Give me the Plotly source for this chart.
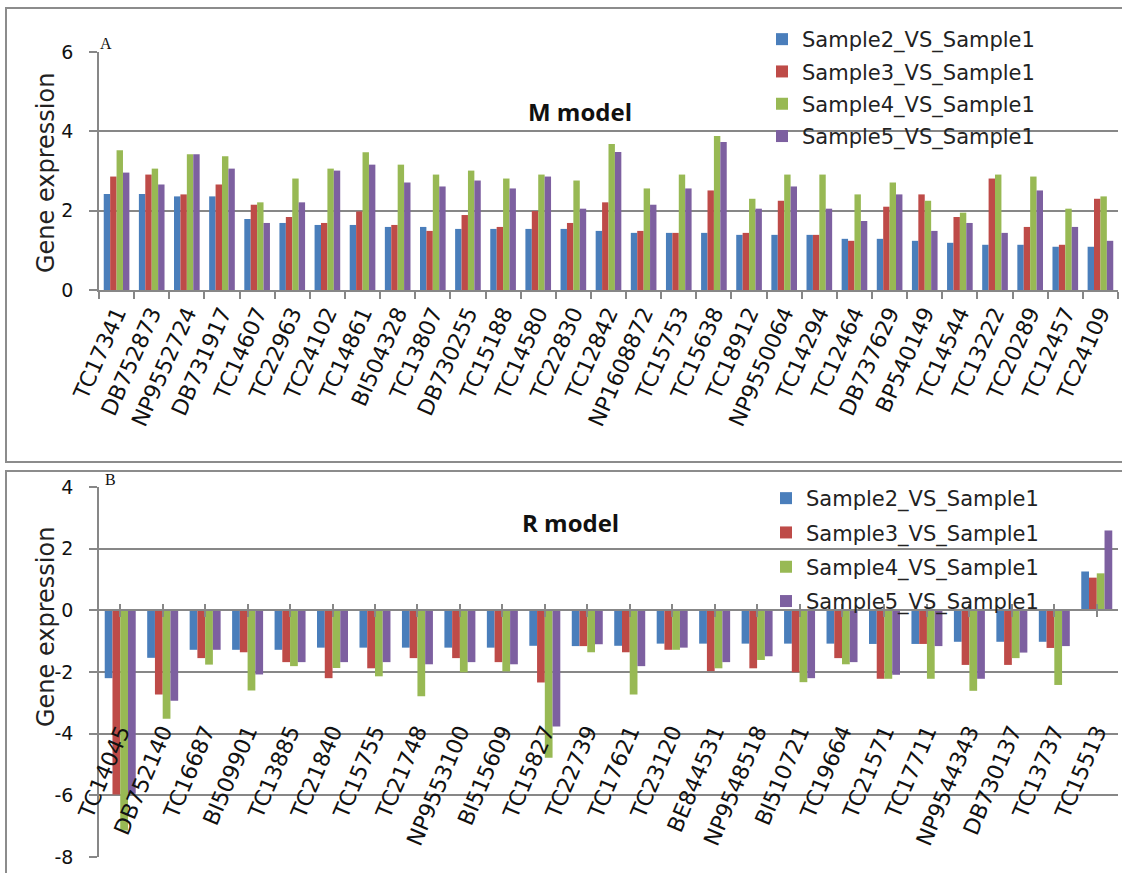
import plotly.graph_objects as go

# ---- M model (panel A) ----
genes_m = ["TC17341", "DB752873", "NP9552724", "DB731917", "TC14607", "TC22963",
           "TC24102", "TC14861", "BI504328", "TC13807", "DB730255", "TC15188",
           "TC14580", "TC22830", "TC12842", "NP1608872", "TC15753", "TC15638",
           "TC18912", "NP9550064", "TC14294", "TC12464", "DB737629", "BP540149",
           "TC14544", "TC13222", "TC20289", "TC12457", "TC24109"]
m_s2 = [2.42, 2.42, 2.36, 2.36, 1.79, 1.69, 1.64, 1.64, 1.59, 1.59, 1.54, 1.54,
        1.54, 1.54, 1.49, 1.44, 1.44, 1.44, 1.39, 1.39, 1.39, 1.29, 1.29, 1.24,
        1.19, 1.14, 1.14, 1.09, 1.09]
m_s3 = [2.86, 2.91, 2.41, 2.66, 2.15, 1.84, 1.69, 1.98, 1.64, 1.49, 1.89, 1.59,
        1.99, 1.69, 2.21, 1.49, 1.44, 2.51, 1.44, 2.25, 1.39, 1.24, 2.10, 2.41,
        1.84, 2.81, 1.59, 1.14, 2.30]
m_s4 = [3.52, 3.06, 3.42, 3.37, 2.21, 2.81, 3.06, 3.47, 3.16, 2.91, 3.01, 2.81,
        2.91, 2.76, 3.68, 2.56, 2.91, 3.88, 2.30, 2.91, 2.91, 2.41, 2.71, 2.25,
        1.95, 2.91, 2.86, 2.05, 2.36]
m_s5 = [2.96, 2.66, 3.42, 3.06, 1.69, 2.21, 3.01, 3.16, 2.71, 2.61, 2.76, 2.56,
        2.86, 2.05, 3.48, 2.15, 2.56, 3.73, 2.05, 2.61, 2.05, 1.74, 2.41, 1.49,
        1.69, 1.44, 2.51, 1.59, 1.24]
m_yticks = [0, 2, 4, 6]

# ---- R model (panel B) ----
genes_r = ["TC14045", "DB752140", "TC16687", "BI509901", "TC13885", "TC21840",
           "TC15755", "TC21748", "NP9553100", "BI515609", "TC15827", "TC22739",
           "TC17621", "TC23120", "BE844531", "NP9548518", "BI510721", "TC19664",
           "TC21571", "TC17711", "NP9544343", "DB730137", "TC13737", "TC15513"]
r_s2 = [-2.20, -1.54, -1.28, -1.28, -1.28, -1.21, -1.21, -1.21, -1.21, -1.21,
        -1.15, -1.16, -1.15, -1.08, -1.08, -1.08, -1.08, -1.08, -1.09, -1.09,
        -1.02, -1.02, -1.02, 1.26]
r_s3 = [-5.97, -2.73, -1.55, -1.36, -1.68, -2.20, -1.88, -1.55, -1.55, -1.68,
        -2.34, -1.16, -1.36, -1.28, -1.97, -1.88, -2.01, -1.55, -2.22, -1.09,
        -1.77, -1.77, -1.22, 1.06]
r_s4 = [-7.14, -3.52, -1.76, -2.60, -1.81, -1.87, -2.14, -2.79, -2.01, -1.98,
        -4.78, -1.36, -2.73, -1.28, -1.88, -1.61, -2.33, -1.75, -2.22, -2.22,
        -2.61, -1.55, -2.42, 1.20]
r_s5 = [-5.95, -2.93, -1.28, -2.08, -1.68, -1.68, -1.68, -1.75, -1.68, -1.75,
        -3.77, -1.10, -1.81, -1.21, -1.68, -1.49, -2.20, -1.68, -2.09, -1.16,
        -2.22, -1.37, -1.16, 2.59]
r_yticks = [-8, -6, -4, -2, 0, 2, 4]

series_names = ["Sample2_VS_Sample1", "Sample3_VS_Sample1",
                "Sample4_VS_Sample1", "Sample5_VS_Sample1"]
colors = ["#4A7EBB", "#BE4B48", "#98B954", "#7D60A0"]

W, H = 1122, 873
GRID = "#878787"
FONT = "DejaVu Sans"


def fx(px):
    return px / W


def fy(py):
    return 1 - py / H


# plot-area geometry (pixels)
X0, X1 = 99, 1118
A_TOP, A_BOT = 52, 290
B_TOP, B_BOT = 487, 857
B_MIN, B_MAX = -8, 4

yb0, yb1 = fy(B_BOT), fy(B_TOP)
zero_pos = yb0 + (0 - B_MIN) / (B_MAX - B_MIN) * (yb1 - yb0)
label_pos = yb0 + (-3.35 - B_MIN) / (B_MAX - B_MIN) * (yb1 - yb0)

fig = go.Figure()

for i, vals in enumerate([m_s2, m_s3, m_s4, m_s5]):
    fig.add_trace(go.Bar(x=genes_m, y=vals, name=series_names[i],
                         marker=dict(color=colors[i], line=dict(width=0)),
                         xaxis="x", yaxis="y", legend="legend",
                         legendgroup="a%d" % i, hoverinfo="x+y+name"))

for i, vals in enumerate([r_s2, r_s3, r_s4, r_s5]):
    fig.add_trace(go.Bar(x=genes_r, y=vals, name=series_names[i],
                         marker=dict(color=colors[i], line=dict(width=0)),
                         xaxis="x2", yaxis="y2", legend="legend2",
                         legendgroup="b%d" % i, hoverinfo="x+y+name"))

# empty carriers so the overlay axes of panel B (gene labels, lower tick marks) get drawn
n_r = len(genes_r)
for ax in ["x3", "x4"]:
    fig.add_trace(go.Scatter(x=list(range(n_r)), y=[None] * n_r, mode="markers",
                             xaxis=ax, yaxis="y2", showlegend=False,
                             hoverinfo="skip"))

tickfont = dict(family=FONT, size=19, color="#111")
labelfont = dict(family=FONT, size=22, color="#111")

legend_common = dict(
    font=dict(family=FONT, size=21, color="#222"),
    bgcolor="rgba(0,0,0,0)", borderwidth=0,
    xanchor="left", yanchor="top",
    itemclick=False, itemdoubleclick=False,
)

yaxis_common = dict(
    showgrid=True, gridcolor=GRID, gridwidth=1.6,
    showline=True, linecolor=GRID, linewidth=1.5,
    ticks="outside", ticklen=8, tickcolor=GRID, tickwidth=1.5,
    ticklabelstandoff=12, tickfont=tickfont, zeroline=False, automargin=False,
    tickmode="array",
)

fig.update_layout(
    width=W, height=H,
    margin=dict(l=0, r=0, t=0, b=0),
    paper_bgcolor="white", plot_bgcolor="white",
    barmode="group", bargap=0.27, bargroupgap=0,
    showlegend=True,
    xaxis=dict(domain=[fx(X0), fx(X1)], anchor="y", type="category",
               showline=True, linecolor=GRID, linewidth=1.5,
               ticks="outside", ticklen=7, tickcolor=GRID, tickwidth=1.5,
               tickson="boundaries", tickangle=-66, tickfont=labelfont,
               showgrid=False, automargin=False),
    yaxis=dict(domain=[fy(A_BOT), fy(A_TOP)], anchor="x", range=[0, 6],
               tickvals=m_yticks, ticktext=[str(v) for v in m_yticks],
               **yaxis_common),
    xaxis2=dict(domain=[fx(X0), fx(X1)], anchor="free", position=zero_pos,
                type="category", showline=True, linecolor=GRID, linewidth=1.5,
                ticks="inside", ticklen=6, tickcolor=GRID, tickwidth=1.5,
                showticklabels=False, showgrid=False, automargin=False),
    xaxis3=dict(overlaying="x2", anchor="free", position=label_pos,
                range=[-0.5, n_r - 0.5], tickmode="array",
                tickvals=list(range(n_r)), ticktext=genes_r,
                ticks="", showline=False, showgrid=False, zeroline=False,
                tickangle=-67, tickfont=labelfont, automargin=False),
    xaxis4=dict(overlaying="x2", anchor="free", position=zero_pos,
                range=[-0.5, n_r - 0.5], tickmode="array",
                tickvals=list(range(n_r)), showticklabels=False,
                ticks="outside", ticklen=6, tickcolor=GRID, tickwidth=1.5,
                showline=False, showgrid=False, zeroline=False, automargin=False),
    yaxis2=dict(domain=[yb0, yb1], anchor="x2", range=[B_MIN, B_MAX],
                tickvals=r_yticks, ticktext=[str(v) for v in r_yticks],
                **yaxis_common),
    legend=dict(x=fx(762), y=fy(19), tracegroupgap=2, **legend_common),
    legend2=dict(x=fx(766), y=fy(478), tracegroupgap=4, **legend_common),
)

# panel frames
for top, bottom in [(8, 462), (471, 900)]:
    fig.add_shape(type="rect", xref="paper", yref="paper",
                  x0=fx(6), x1=fx(1140), y0=fy(bottom), y1=fy(top),
                  line=dict(color="#8c8c8c", width=2), fillcolor="rgba(0,0,0,0)",
                  layer="below")

title_font = dict(family="Open Sans", size=24, color="#111")
panel_font = dict(family="Liberation Serif", size=16, color="#111")
ytitle_font = dict(family=FONT, size=24, color="#222")

annotations = [
    dict(text="<b>M model</b>", x=fx(580), y=fy(111), font=title_font),
    dict(text="<b>R model</b>", x=fx(570), y=fy(522), font=title_font),
    dict(text="A", x=fx(106), y=fy(43), font=panel_font),
    dict(text="B", x=fx(110), y=fy(479), font=panel_font),
    dict(text="Gene expression", x=fx(46), y=fy(173), textangle=-90, font=ytitle_font),
    dict(text="Gene expression", x=fx(46), y=fy(627), textangle=-90, font=ytitle_font),
]
for a in annotations:
    fig.add_annotation(xref="paper", yref="paper", showarrow=False,
                       xanchor="center", yanchor="middle", **a)

fig.write_html("out.html")
